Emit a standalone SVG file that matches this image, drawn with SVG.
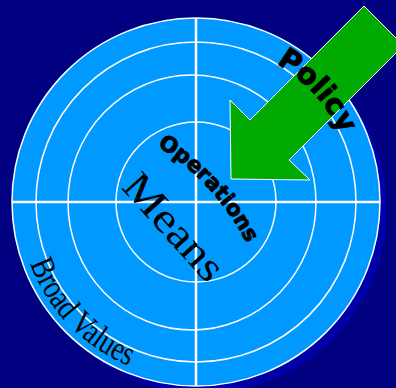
<svg xmlns="http://www.w3.org/2000/svg" width="396" height="388" viewBox="0 0 396 388">
<style>
.ring{fill:none;stroke:#ffffff;stroke-width:1.5}
.cross{stroke:#ffffff;stroke-width:2.5}
.sans{font-family:"DejaVu Sans","Liberation Sans",sans-serif;font-weight:bold;fill:#000000;stroke:#000000;stroke-width:0.9;stroke-linejoin:round}
.serif{font-family:"Liberation Serif","DejaVu Serif",serif;fill:#000000}
</style>
<defs>
<path id="pPolicy" d="M209.9,42.6 A160,160 0 0 1 356,202"/>
<path id="pOps" d="M49.4,109.9 A245,245 0 0 1 273,354"/>
<path id="pBroad" d="M24.3,244.8 A177,177 0 0 0 147.2,372.1"/>
</defs>
<rect width="396" height="388" fill="#000080"/>
<g id="target">
<circle cx="203" cy="209" r="184" fill="#0000A8"/>
<circle cx="196" cy="202" r="184" fill="#0099FF" stroke="#ffffff" stroke-width="1.5"/>
<circle class="ring" cx="196" cy="202" r="160"/>
<ellipse class="ring" cx="192" cy="202.5" rx="124" ry="127.5"/>
<circle class="ring" cx="196" cy="202" r="80"/>
<line class="cross" x1="196" y1="18" x2="196" y2="386"/>
<line class="cross" x1="12" y1="202" x2="380" y2="202"/>
</g>
<g id="connectors">
<polygon id="arrow" points="364,6 403.5,45.5 289,160 310,180 231,179 230,100 250,120" fill="#00AA00" stroke="#ffffff" stroke-width="1"/>
</g>
<g id="node-broad-values">
<text class="serif" font-size="34"><textPath href="#pBroad" startOffset="50%" text-anchor="middle" textLength="146" lengthAdjust="spacingAndGlyphs">Broad Values</textPath></text>
</g>
<g id="node-means">
<text class="serif" font-size="42" x="0" y="0" text-anchor="middle" textLength="130" lengthAdjust="spacingAndGlyphs" transform="translate(164,236) rotate(48)">Means</text>
</g>
<g id="node-operations">
<text class="sans" font-size="21.5"><textPath href="#pOps" startOffset="50%" text-anchor="middle">Operations</textPath></text>
</g>
<g id="node-policy">
<text class="sans" font-size="29"><textPath href="#pPolicy" startOffset="50%" text-anchor="middle">Policy</textPath></text>
</g>
</svg>
